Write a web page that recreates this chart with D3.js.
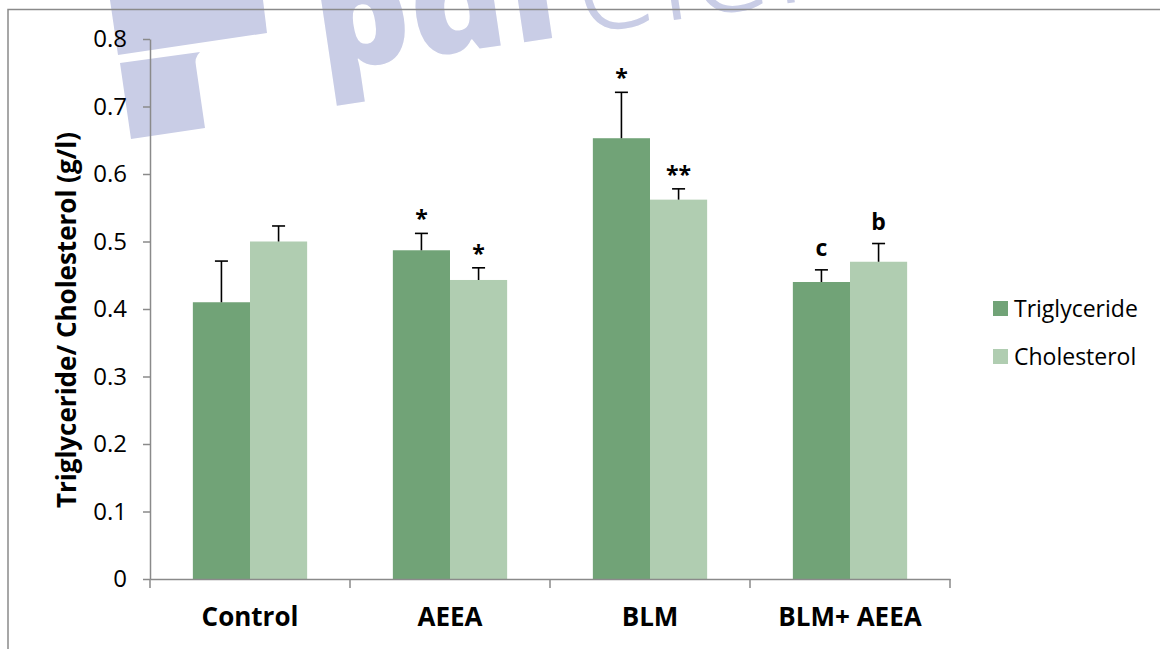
<!DOCTYPE html>
<html>
<head>
<meta charset="utf-8">
<script src="https://cdn.jsdelivr.net/npm/d3@7"></script>
<style>
  html, body { margin: 0; padding: 0; background: #fff; }
  svg { display: block; }
  text { font-family: "Open Sans", "DejaVu Sans", sans-serif; }
</style>
</head>
<body>
<svg id="chart" width="1160" height="649"></svg>
<script>
// Group names on the x axis
const categories = ["Control", "AEEA", "BLM", "BLM+ AEEA"];
// Series names (legend)
const seriesNames = ["Triglyceride", "Cholesterol"];
// Mean values (g/l)
const triglyceride = [0.410, 0.487, 0.653, 0.440];
const cholesterol  = [0.500, 0.443, 0.562, 0.470];
// Standard errors (upper bars only)
const triglycerideErr = [0.061, 0.025, 0.068, 0.018];
const cholesterolErr  = [0.023, 0.018, 0.016, 0.027];
// Significance marks above each bar
const triglycerideMarks = ["", "*", "*", "c"];
const cholesterolMarks  = ["", "*", "**", "b"];
// Y axis ticks
const yTicks = [0, 0.1, 0.2, 0.3, 0.4, 0.5, 0.6, 0.7, 0.8];
const yTitle = "Triglyceride/ Cholesterol (g/l)";

const colors = ["#71a377", "#b0cdb1"];
const axisColor = "#8a8a8a";

const svg = d3.select("#chart");

// ---- faint background logo ----
const wm = svg.append("g").attr("fill", "#c9cde6");
wm.append("path").attr("d", "M110,0 L263,0 L267,33 L118,55 Z");
wm.append("path").attr("d", "M120,63 L200,52 Q194,58 196,66 L205,128 L131,139 Z");
const wmText = wm.append("text")
  .attr("transform", "translate(322,72) rotate(-8.4)")
  .attr("font-family", "Open Sans, sans-serif")
  .attr("font-size", 148);
wmText.append("tspan").attr("font-weight", 800).text("pdf");
wmText.append("tspan").attr("font-weight", 300).attr("dx", 10).text("element");

// ---- outer frame ----
svg.append("rect")
  .attr("x", 8).attr("y", 9.5).attr("width", 1300).attr("height", 800)
  .attr("fill", "none").attr("stroke", axisColor).attr("stroke-width", 1.5);

// ---- scales ----
const plot = { left: 150, right: 950, top: 39, bottom: 579 };
const x0 = d3.scaleBand().domain(categories).range([plot.left, plot.right]).padding(0);
const x1 = d3.scaleBand().domain(seriesNames).range([0, x0.bandwidth()])
  .paddingInner(0).paddingOuter(0.75);
const y = d3.scaleLinear().domain([0, 0.8]).range([plot.bottom, plot.top]);

const rows = categories.map((c, i) => ({
  cat: c,
  items: [
    { s: seriesNames[0], v: triglyceride[i], e: triglycerideErr[i], m: triglycerideMarks[i], k: 0 },
    { s: seriesNames[1], v: cholesterol[i],  e: cholesterolErr[i],  m: cholesterolMarks[i],  k: 1 }
  ]
}));

// ---- bars ----
const groups = svg.append("g").selectAll("g").data(rows).join("g")
  .attr("transform", d => `translate(${x0(d.cat)},0)`);

groups.selectAll("rect").data(d => d.items).join("rect")
  .attr("x", d => x1(d.s))
  .attr("y", d => y(d.v))
  .attr("width", x1.bandwidth())
  .attr("height", d => y(0) - y(d.v))
  .attr("fill", d => colors[d.k]);

// ---- error bars (plus direction) ----
const capHalf = 6.5;
const eb = groups.selectAll("g.err").data(d => d.items).join("g").attr("class", "err")
  .attr("stroke", "#000").attr("stroke-width", 1.6);
eb.append("line")
  .attr("x1", d => x1(d.s) + x1.bandwidth() / 2)
  .attr("x2", d => x1(d.s) + x1.bandwidth() / 2)
  .attr("y1", d => y(d.v))
  .attr("y2", d => y(d.v + d.e));
eb.append("line")
  .attr("x1", d => x1(d.s) + x1.bandwidth() / 2 - capHalf)
  .attr("x2", d => x1(d.s) + x1.bandwidth() / 2 + capHalf)
  .attr("y1", d => y(d.v + d.e))
  .attr("y2", d => y(d.v + d.e));

// ---- significance marks ----
groups.selectAll("text.mark").data(d => d.items.filter(it => it.m)).join("text")
  .attr("class", "mark")
  .attr("x", d => x1(d.s) + x1.bandwidth() / 2)
  .attr("y", d => y(d.v + d.e) - (d.m.startsWith("*") ? 6 : 14))
  .attr("text-anchor", "middle")
  .attr("font-weight", 700)
  .attr("font-size", 23)
  .attr("fill", "#000")
  .text(d => d.m);

// ---- y axis ----
const yAxis = svg.append("g")
  .attr("transform", `translate(${plot.left},0)`)
  .call(d3.axisLeft(y).tickValues(yTicks).tickFormat(d => d === 0 ? "0" : d3.format(".1f")(d))
    .tickSize(7).tickSizeOuter(0).tickPadding(16));
yAxis.select(".domain").attr("stroke", axisColor).attr("stroke-width", 1.5);
yAxis.selectAll(".tick line").attr("stroke", axisColor).attr("stroke-width", 1.5);
yAxis.selectAll(".tick text")
  .attr("font-family", "Open Sans, sans-serif")
  .attr("font-size", 24).attr("fill", "#000");

// ---- x axis ----
const xAxis = svg.append("g")
  .attr("transform", `translate(0,${plot.bottom})`)
  .call(d3.axisBottom(x0).tickSize(0).tickPadding(29));
xAxis.select(".domain").attr("stroke", axisColor).attr("stroke-width", 1.5);
xAxis.selectAll(".tick text")
  .attr("font-family", "Open Sans, sans-serif")
  .attr("font-weight", 700).attr("font-size", 26).attr("fill", "#000");
// boundary ticks between categories
const bounds = categories.map(c => x0(c)).concat([x0(categories[categories.length - 1]) + x0.bandwidth()]);
xAxis.selectAll("line.bound").data(bounds).join("line")
  .attr("class", "bound")
  .attr("x1", d => d).attr("x2", d => d)
  .attr("y1", 0).attr("y2", 9)
  .attr("stroke", axisColor).attr("stroke-width", 1.5);

// ---- y axis title ----
svg.append("text")
  .attr("transform", `translate(76,${(plot.top + plot.bottom) / 2 + 11}) rotate(-90)`)
  .attr("text-anchor", "middle")
  .attr("font-weight", 700)
  .attr("font-size", 26)
  .attr("fill", "#000")
  .text(yTitle);

// ---- legend ----
const legend = svg.append("g").attr("transform", "translate(993,301)");
const li = legend.selectAll("g").data(seriesNames).join("g")
  .attr("transform", (d, i) => `translate(0,${i * 48})`);
li.append("rect").attr("width", 15).attr("height", 15).attr("fill", (d, i) => colors[i]);
li.append("text").attr("x", 21).attr("y", 16)
  .attr("font-size", 23).attr("fill", "#000").text(d => d);
</script>
</body>
</html>
